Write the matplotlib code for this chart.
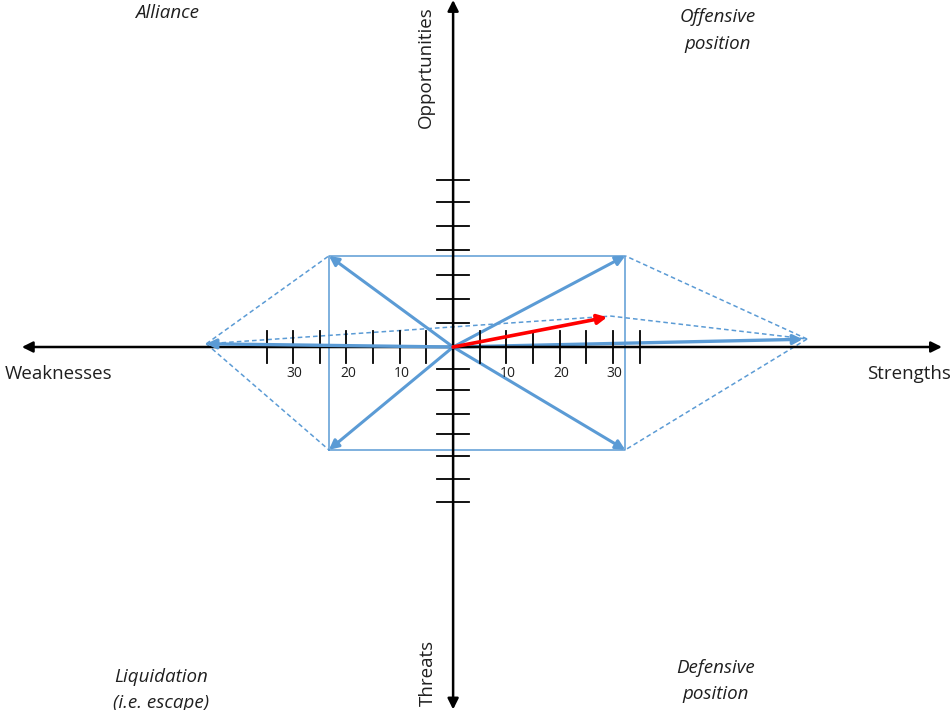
import matplotlib
matplotlib.use("Agg")
import matplotlib.pyplot as plt

# data (units: 5 per tick on the horizontal axis)
origin = (0.0, 0.0)
rect_x = [-23.3, 32.3]          # left, right edge of the box
rect_y = [-19.3, 17.1]          # bottom, top edge of the box
apex_left = (-46.3, 0.6)
apex_right = (66.4, 1.5)
red_tip = (28.9, 5.6)
red_dash = (29.6, 5.8)

h_ticks = [5, 10, 15, 20, 25, 30, 35]
h_labels = ["10", "20", "30"]
v_ticks_up = [4.5, 9, 13.5, 18.2, 22.7, 27.2, 31.4]
v_ticks_down = [-4.1, -8.1, -12.6, -16.4, -20.5, -24.8, -29.1]

quadrants = ["Alliance", "Offensive\nposition", "Liquidation\n(i.e. escape)", "Defensive\nposition"]
axis_names = ["Weaknesses", "Strengths", "Opportunities", "Threats"]

BLUE = "#5b9bd5"
FONT = "Open Sans"
TXT = "#1f1f1f"

fig = plt.figure(figsize=(9.51, 7.10), dpi=100)
ax = fig.add_axes([0, 0, 1, 1])
ax.set_xlim(-85.0, 93.4)
ax.set_ylim(-68.1, 65.1)
ax.axis("off")


def arrow(tip, start, color, lw, ms, z=2):
    ax.annotate("", xy=tip, xytext=start, zorder=z,
                arrowprops=dict(arrowstyle="-|>", color=color, lw=lw,
                                mutation_scale=ms, shrinkA=0, shrinkB=0))


# main axes
arrow((-80.9, 0), (0, 0), "black", 1.8, 16, 3)
arrow((91.7, 0), (0, 0), "black", 1.8, 16, 3)
arrow((0, 65.1), (0, 0), "black", 1.8, 16, 3)
arrow((0, -68.0), (0, 0), "black", 1.8, 16, 3)

# ticks
for t in h_ticks:
    for sgn in (-1, 1):
        ax.plot([sgn * t, sgn * t], [-3.0, 3.0], color="black", lw=1.3, zorder=3)
for t in v_ticks_up + v_ticks_down:
    ax.plot([-3.0, 3.0], [t, t], color="black", lw=1.3, zorder=3)
for i, lab in enumerate(h_labels):
    v = 10 * (i + 1)
    for sgn in (-1, 1):
        ax.text(sgn * v + 0.3, -5.0, lab, ha="center", va="center",
                fontsize=10, family=FONT, color=TXT)

# box
x0, x1 = rect_x
y0, y1 = rect_y
ax.plot([x0, x1, x1, x0, x0], [y0, y0, y1, y1, y0], color=BLUE, lw=1.1)

# dashed diamond
dash = (0, (3, 2))
ax.plot([apex_left[0], x0], [apex_left[1], y1], color=BLUE, lw=1.1, ls=dash)
ax.plot([apex_left[0], x0], [apex_left[1], y0], color=BLUE, lw=1.1, ls=dash)
ax.plot([apex_right[0], x1], [apex_right[1], y1], color=BLUE, lw=1.1, ls=dash)
ax.plot([apex_right[0], x1], [apex_right[1], y0], color=BLUE, lw=1.1, ls=dash)
ax.plot([apex_left[0], red_dash[0], apex_right[0]],
        [apex_left[1], red_dash[1], apex_right[1]], color=BLUE, lw=1.1, ls=dash)

# blue arrows to corners and apexes
for cx in rect_x:
    for cy in rect_y:
        arrow((cx, cy), origin, BLUE, 2.2, 14)
arrow(apex_left, origin, BLUE, 2.4, 14, 4)
arrow((apex_right[0] - 0.8, apex_right[1] - 0.05), origin, BLUE, 2.4, 14)

# red resulting vector
arrow(red_tip, origin, "red", 2.6, 14, 5)

# quadrant labels
kw = dict(ha="center", va="center", style="italic", fontsize=13.5,
          family=FONT, color=TXT, linespacing=1.6)
ax.text(-53.7, 62.7, quadrants[0], **kw)
ax.text(49.7, 59.4, quadrants[1], **kw)
ax.text(-54.7, -64.3, quadrants[2], **kw)
ax.text(49.3, -62.7, quadrants[3], **kw)

# axis names
nk = dict(va="center", fontsize=13.5, family=FONT, color=TXT)
ax.text(-74.1, -5.1, axis_names[0], ha="center", **nk)
ax.text(77.7, -5.1, axis_names[1], ha="left", **nk)
ax.text(-5.2, 52.5, axis_names[2], ha="center", rotation=90, **nk)
ax.text(-4.8, -61.2, axis_names[3], ha="center", rotation=90, **nk)

fig.savefig("out.png", dpi=100)
